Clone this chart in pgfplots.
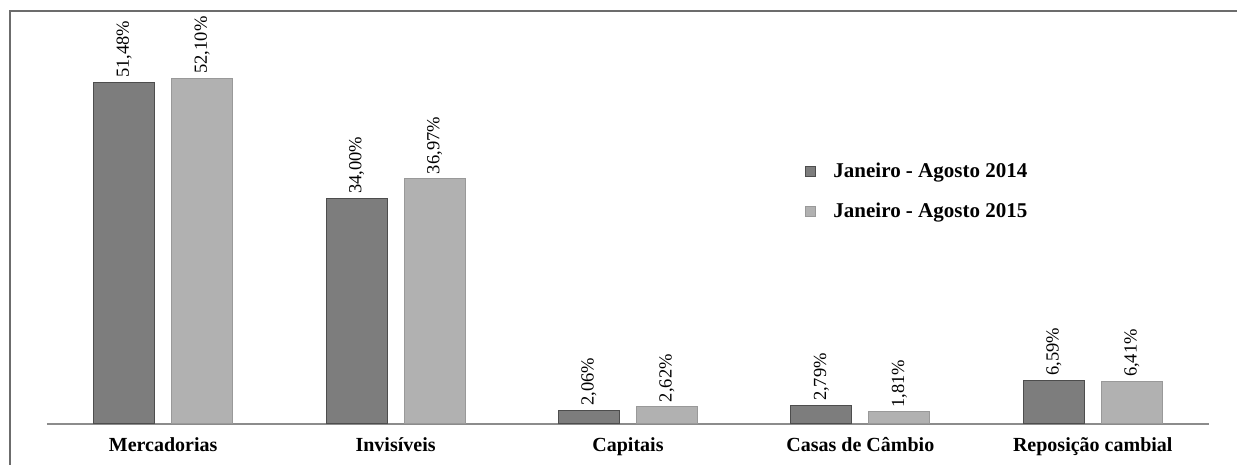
\documentclass[border=0pt]{standalone}
\usepackage{pgfplots}
\pgfplotsset{compat=1.18}
\usepackage{fontspec}
\setmainfont{Liberation Serif}

\definecolor{darkbar}{HTML}{7D7D7D}
\definecolor{darkedge}{HTML}{4D4D4D}
\definecolor{lightbar}{HTML}{B1B1B1}
\definecolor{lightedge}{HTML}{999999}
\definecolor{axisgray}{HTML}{8C8C8C}

\begin{document}
\begin{tikzpicture}[x=1pt,y=1pt]
% page = 1237 x 465 px, 1px = 1pt, origin at the left end of the baseline
\useasboundingbox (-47,-41) rectangle (1190,424);
\draw[line width=1.8pt, color=gray!85!black] (-37,-45) -- (-37,413) -- (1195,413);

\begin{axis}[
    at={(0,0)}, anchor=south west,
    scale only axis,
    width=1162pt, height=398.4pt,
    ybar=17pt, bar width=61pt,
    xmin=-0.5, xmax=4.5,
    ymin=0, ymax=60,
    axis x line*=bottom,
    hide y axis,
    x axis line style={axisgray, line width=1.8pt, -},
    xtick=data,
    xticklabels={Mercadorias, Invisíveis, Capitais, Casas de Câmbio, Reposição cambial},
    xticklabel style={font=\fontsize{20}{23}\selectfont\bfseries, yshift=-10pt},
    major tick length=0pt,
    nodes near coords={\pgfmathprintnumber{\pgfplotspointmeta}\%},
    nodes near coords align={vertical},
    every node near coord/.append style={rotate=90, anchor=west, inner sep=4pt,
        font=\fontsize{18.5}{20}\selectfont},
    /pgf/number format/.cd, use comma, fixed, fixed zerofill, precision=2, assume math mode=true,
    /pgfplots/.cd,
    legend style={draw=none, fill=none, at={(0.650,0.665)}, anchor=north west,
        font=\fontsize{21}{25}\selectfont\bfseries, row sep=20pt},
    legend cell align=left,
    legend image code/.code={\fill[#1] (0pt,-5pt) rectangle (10pt,5pt); \path (25pt,0pt);},
]
\addplot[fill=darkbar, draw=darkedge, line width=1pt] coordinates {
    (0,51.48) (1,34.00) (2,2.06) (3,2.79) (4,6.59)
};
\addplot[fill=lightbar, draw=lightedge, line width=1pt] coordinates {
    (0,52.10) (1,36.97) (2,2.62) (3,1.81) (4,6.41)
};
\legend{Janeiro - Agosto 2014, Janeiro - Agosto 2015}
\end{axis}
\end{tikzpicture}
\end{document}
